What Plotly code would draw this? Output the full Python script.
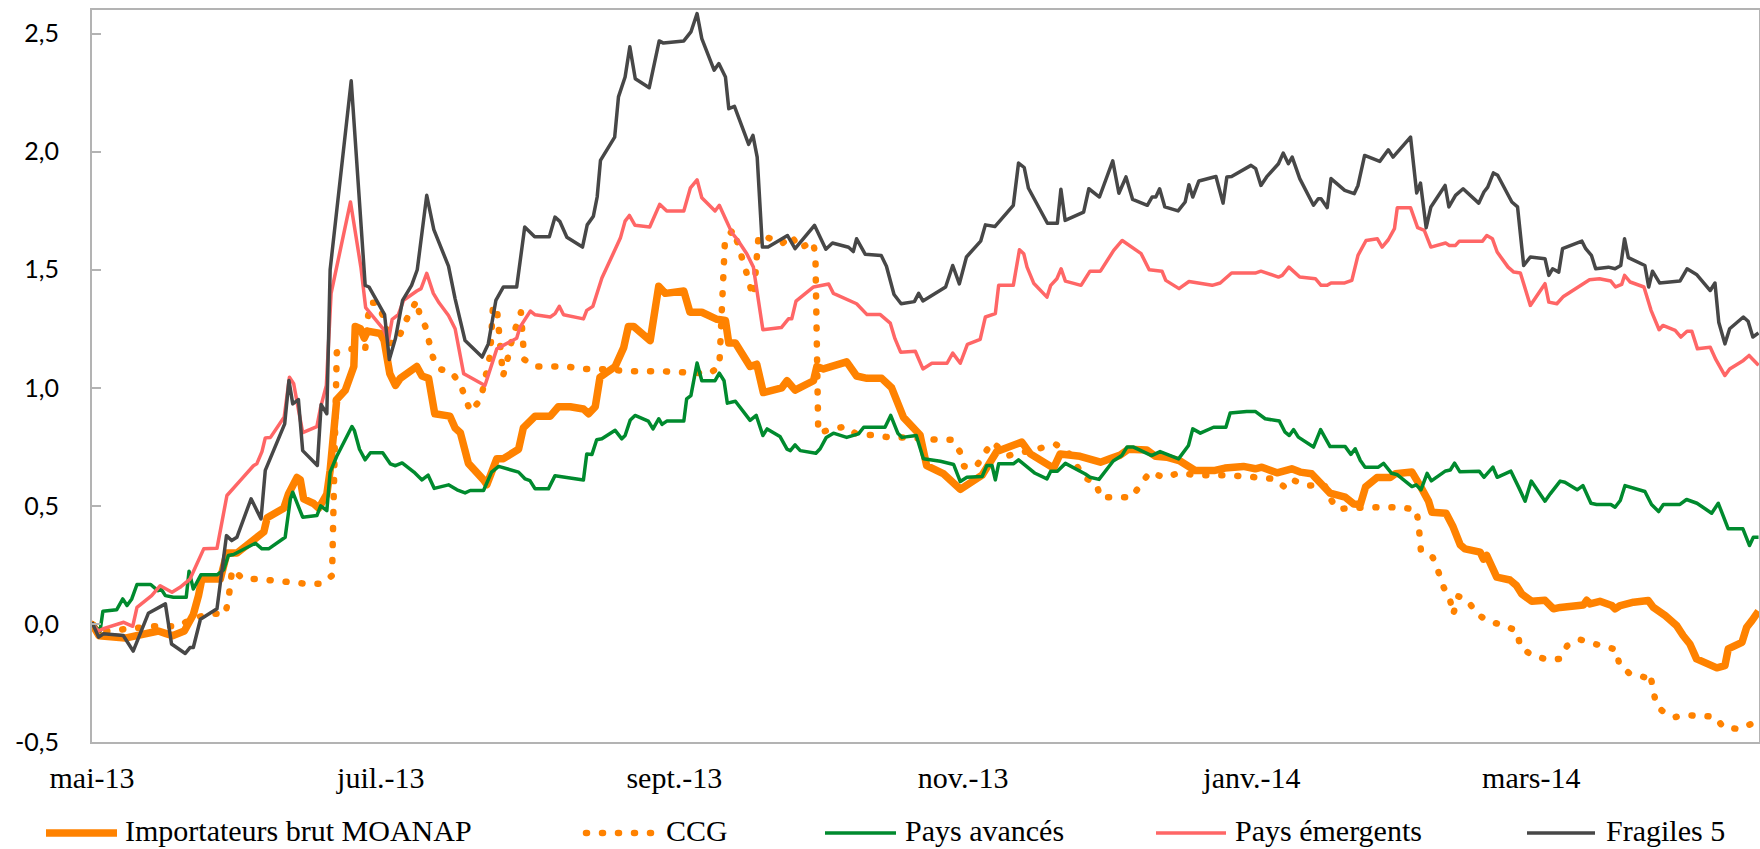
import pandas as pd
import plotly.graph_objects as go

START = pd.Timestamp("2013-05-01")

# ---- Data: day offsets since 1 May 2013 and values ----
moanap_days = [0, 1.5, 7, 9, 12, 14, 15.5, 17, 19.5, 21.4, 22.5, 23.2, 27.1, 28.5, 30.6, 34.1, 36.3, 37, 40.5,
               41.5, 43.3, 44, 44.7, 46.8, 47.9, 49.6, 50.3, 51.7, 53.5, 55.3, 55.6, 56.7, 57.5, 58.2, 60.9, 61.7,
               62.9, 64.1, 65.1, 68.6, 69.7, 71.1, 72.4, 75.6, 76.7, 77.8, 79.5, 82.7, 83.4, 85.5, 86.9, 90.1, 91.1,
               93.6, 96.8, 98.5, 101, 103.8, 104.9, 106.3, 107.3, 108.7, 110.5, 112.3, 113.3, 114.4, 117.9, 119.7,
               121.1, 125, 126.3, 128.8, 132, 133.8, 134.5, 135.9, 139, 140.4, 141.8, 145.7, 146.8, 148.5, 152.4,
               153.1, 154.5, 159.4, 161.5, 163.7, 166.8, 168.9, 171.4, 174.9, 176.3, 179.9, 181.6, 183.4, 188,
               191.1, 196.4, 198.2, 203.1, 204.5, 208.7, 213, 215.1, 217.2, 218.9, 222.8, 224.6, 227, 229.8, 231.6,
               233, 237.2, 239.3, 243.2, 245.7, 247.1, 250.3, 253.4, 255.2, 257.6, 259.8, 261.5, 264.7, 266.5,
               267.9, 269, 271.4, 274.2, 275.3, 278.8, 280.5, 282.3, 283, 286, 287.4, 289, 290, 293.2, 293.9, 294.6,
               296.7, 299.5, 300.9, 302, 304.1, 306.9, 308.7, 310.1, 315, 315.7, 316.4, 318.5, 321, 321.7, 322.8,
               325.6, 328.7, 329.8, 332.3, 334.7, 336.1, 337.5, 338.9, 341.8, 343.2, 344.9, 345.6, 348.5, 349.5,
               350.6, 352]
moanap_vals = [0.00, -0.05, -0.06, -0.05, -0.04, -0.03, -0.04, -0.05, -0.03, 0.04, 0.12, 0.19, 0.19, 0.30, 0.30,
               0.35, 0.39, 0.45, 0.49, 0.55, 0.62, 0.61, 0.53, 0.51, 0.49, 0.55, 0.65, 0.95, 0.99, 1.09, 1.26, 1.25,
               1.21, 1.24, 1.23, 1.20, 1.06, 1.01, 1.04, 1.09, 1.05, 1.04, 0.89, 0.88, 0.83, 0.81, 0.68, 0.61, 0.59,
               0.70, 0.70, 0.74, 0.83, 0.88, 0.88, 0.92, 0.92, 0.91, 0.89, 0.92, 1.045, 1.065, 1.09, 1.17, 1.26,
               1.26, 1.20, 1.43, 1.40, 1.41, 1.32, 1.32, 1.29, 1.285, 1.19, 1.19, 1.09, 1.10, 0.98, 1.00, 1.03,
               0.99, 1.03, 1.09, 1.08, 1.11, 1.05, 1.04, 1.04, 1.00, 0.875, 0.80, 0.67, 0.635, 0.60, 0.57, 0.63,
               0.73, 0.77, 0.72, 0.66, 0.72, 0.71, 0.685, 0.70, 0.715, 0.74, 0.737, 0.71, 0.706, 0.69, 0.67, 0.65,
               0.65, 0.66, 0.667, 0.657, 0.664, 0.64, 0.657, 0.643, 0.636, 0.593, 0.554, 0.537, 0.508, 0.506, 0.58,
               0.62, 0.62, 0.636, 0.643, 0.586, 0.52, 0.473, 0.469, 0.415, 0.335, 0.318, 0.304, 0.275, 0.29, 0.198,
               0.186, 0.162, 0.127, 0.096, 0.10, 0.064, 0.07, 0.08, 0.10, 0.085, 0.096, 0.078, 0.064, 0.078, 0.092,
               0.099, 0.07, 0.035, -0.007, -0.05, -0.085, -0.148, -0.17, -0.186, -0.177, -0.106, -0.078, -0.014,
               0.014, 0.054]

ccg_days = [0, 3, 8, 13, 18, 21, 25, 28.1, 28.8, 29.2, 29.6, 32, 35.2, 45.2, 48.6, 50.7, 51.2, 51.7, 54.2, 57.7,
            58.2, 58.8, 60.2, 61.8, 62.6, 64.3, 65.6, 66.9, 68.6, 69.2, 70.4, 71.3, 72, 73.3, 76, 77.9, 79, 79.9,
            82.1, 83.7, 84.1, 84.7, 85.6, 86.8, 87.4, 88.9, 90.6, 91.3, 93.5, 100.3, 103.6, 107, 113.7, 120.4,
            127.1, 130.4, 132.5, 133.7, 135.5, 136.6, 137.6, 138.5, 139.4, 139.8, 140.3, 140.8, 143, 145.7, 147.7,
            149.4, 152.3, 152.8, 153.4, 156.2, 159, 161.8, 165.1, 168.3, 172, 178.4, 181.8, 183.3, 184.2, 186.7,
            188.5, 190.1, 193.6, 200.6, 203.6, 206.1, 207.9, 209.6, 212.1, 213, 216.3, 219.7, 221.5, 223.5, 226.4,
            229.7, 233.1, 239.8, 246.5, 249.7, 252.2, 253.9, 256.9, 260.3, 261.4, 263.1, 269.5, 276.3, 279.7,
            280.2, 280.7, 283.2, 284.4, 285.5, 286.8, 287.5, 288.6, 290.6, 292.5, 295.1, 298.5, 301.1, 301.6, 304,
            307.3, 310, 311.6, 314.3, 317.5, 320.6, 322, 322.6, 324.9, 328, 329.1, 329.7, 330.4, 331.6, 334.2,
            336.6, 339.8, 342.8, 344.6, 347.9, 350.4, 352]
ccg_vals = [0.00, -0.03, -0.02, -0.01, -0.01, 0.02, 0.045, 0.04, 0.10, 0.18, 0.23, 0.19, 0.19, 0.17, 0.17, 0.205,
            0.61, 1.15, 1.165, 1.16, 1.29, 1.36, 1.36, 1.29, 1.19, 1.19, 1.25, 1.31, 1.37, 1.31, 1.26, 1.20, 1.13,
            1.08, 1.066, 1.01, 0.95, 0.90, 0.95, 1.08, 1.14, 1.35, 1.32, 1.05, 1.09, 1.22, 1.32, 1.12, 1.09, 1.09,
            1.08, 1.08, 1.07, 1.07, 1.06, 1.06, 1.09, 1.63, 1.67, 1.60, 1.54, 1.47, 1.40, 1.39, 1.525, 1.645,
            1.634, 1.61, 1.645, 1.59, 1.62, 1.56, 0.81, 0.826, 0.836, 0.80, 0.80, 0.79, 0.79, 0.78, 0.78, 0.73,
            0.667, 0.665, 0.716, 0.77, 0.713, 0.75, 0.76, 0.73, 0.67, 0.62, 0.596, 0.536, 0.537, 0.537, 0.593,
            0.643, 0.62, 0.64, 0.63, 0.63, 0.62, 0.614, 0.575, 0.607, 0.586, 0.59, 0.534, 0.487, 0.494, 0.494,
            0.484, 0.424, 0.308, 0.282, 0.22, 0.155, 0.106, 0.04, 0.117, 0.099, 0.042, 0.01, -0.007, -0.032,
            -0.096, -0.131, -0.151, -0.148, -0.092, -0.066, -0.085, -0.099, -0.109, -0.174, -0.212, -0.226,
            -0.209, -0.275, -0.342, -0.367, -0.395, -0.386, -0.388, -0.393, -0.438, -0.445, -0.424, -0.41]

avances_days = [0, 1.7, 2.3, 5.2, 6.5, 7.4, 8.4, 9.5, 12.4, 13.9, 14.6, 15.5, 17.2, 19.9, 20.5, 21.4, 23, 26.4,
                27.8, 28.8, 29.9, 34.5, 35.9, 37.3, 40.8, 41.9, 42.4, 44.5, 47.5, 48.3, 49.6, 50.3, 51.7, 54.9,
                55.4, 56.5, 57.7, 58.8, 61.4, 63, 64.1, 65.5, 68, 69.7, 71, 72.3, 75.3, 77.1, 78.8, 79.9, 82.7,
                84.4, 85.9, 90.1, 91.5, 92.5, 93.6, 96.4, 97.8, 101, 103.8, 104.5, 105.6, 106.6, 107.7, 110.5,
                111.9, 112.6, 113.7, 114.7, 117.5, 118.5, 119.7, 120.4, 121.4, 125, 125.6, 126.5, 127.8, 128.8,
                131.6, 132.5, 133.5, 134.2, 135.9, 139, 140.3, 141.7, 142.6, 145.3, 146.8, 147.5, 148.5, 149.6,
                152.9, 153.8, 155.1, 156.6, 159.4, 161.9, 163, 167.5, 168.7, 170.2, 171.1, 174.1, 175.6, 179.2,
                182, 183.4, 184.8, 188, 189, 190.1, 190.8, 191.5, 194.6, 195.7, 197.1, 199.2, 201.7, 202.5, 203.9,
                205.6, 209.8, 210.8, 212.7, 215.7, 217.5, 218.6, 220, 223.8, 225.6, 229.5, 231.6, 232.5, 234.1,
                236.9, 239.5, 240.4, 243.9, 245.7, 247.8, 250.8, 252, 252.9, 253.8, 254.8, 258, 259.5, 261.5,
                264.7, 265.9, 266.8, 267.9, 268.9, 271.7, 272.8, 274.5, 275.6, 278.8, 279.7, 280.7, 282, 282.9,
                285.9, 286.9, 287.8, 288.9, 293, 294, 295.9, 296.8, 299.7, 301.5, 302.7, 304, 306.9, 308, 310.1,
                311.1, 313.7, 314.9, 316.6, 317.8, 320.8, 321.7, 322.8, 323.8, 328, 329.4, 330.9, 331.9, 335.4,
                336.8, 339, 342.1, 343.5, 345.6, 348.7, 350.1, 350.9, 352]
avances_vals = [0.00, -0.03, 0.054, 0.06, 0.106, 0.078, 0.106, 0.167, 0.167, 0.141, 0.148, 0.12, 0.113, 0.113,
                0.223, 0.148, 0.208, 0.208, 0.229, 0.29, 0.294, 0.342, 0.318, 0.318, 0.367, 0.53, 0.558, 0.452,
                0.459, 0.50, 0.48, 0.643, 0.71, 0.836, 0.82, 0.74, 0.695, 0.725, 0.725, 0.678, 0.67, 0.682, 0.643,
                0.61, 0.63, 0.574, 0.589, 0.568, 0.555, 0.565, 0.565, 0.643, 0.667, 0.643, 0.614, 0.607, 0.572,
                0.572, 0.628, 0.62, 0.61, 0.72, 0.718, 0.78, 0.784, 0.82, 0.784, 0.798, 0.864, 0.883, 0.859, 0.826,
                0.869, 0.845, 0.859, 0.859, 0.953, 0.967, 1.105, 1.03, 1.03, 1.062, 1.03, 0.935, 0.943, 0.862,
                0.883, 0.798, 0.826, 0.794, 0.74, 0.734, 0.758, 0.734, 0.723, 0.742, 0.79, 0.808, 0.79, 0.805,
                0.833, 0.833, 0.883, 0.808, 0.79, 0.798, 0.70, 0.689, 0.675, 0.603, 0.621, 0.624, 0.671, 0.671,
                0.61, 0.678, 0.678, 0.695, 0.671, 0.638, 0.614, 0.647, 0.647, 0.68, 0.635, 0.621, 0.612, 0.69,
                0.713, 0.749, 0.749, 0.713, 0.73, 0.699, 0.756, 0.826, 0.808, 0.833, 0.833, 0.893, 0.90, 0.90,
                0.869, 0.859, 0.812, 0.798, 0.823, 0.791, 0.749, 0.823, 0.751, 0.751, 0.718, 0.742, 0.692, 0.664,
                0.664, 0.68, 0.638, 0.633, 0.582, 0.589, 0.568, 0.638, 0.606, 0.648, 0.652, 0.681, 0.645, 0.647,
                0.621, 0.664, 0.621, 0.647, 0.572, 0.52, 0.605, 0.52, 0.551, 0.605, 0.60, 0.568, 0.586, 0.511,
                0.506, 0.506, 0.494, 0.523, 0.586, 0.561, 0.506, 0.476, 0.506, 0.506, 0.527, 0.511, 0.469, 0.511,
                0.403, 0.403, 0.332, 0.367, 0.367]

emergents_days = [0, 1.4, 2.4, 6.7, 8.6, 9.5, 12.6, 14.4, 16.9, 18.6, 20.7, 22.5, 23.6, 26.4, 27.1, 28.5, 31.3,
                  34.1, 34.8, 35.9, 36.6, 37.7, 40.6, 41.7, 42.6, 44.5, 47.5, 48.3, 49.5, 50.5, 54.6, 56.8, 57.8,
                  59, 61.5, 62.6, 63.4, 64.7, 65.8, 68.6, 69.5, 70.7, 72.1, 73.3, 75.3, 76.7, 78.5, 79.2, 83, 85.5,
                  87.3, 89.7, 90.4, 92.6, 93.6, 96.8, 97.8, 98.7, 99.6, 103.8, 104.5, 105.8, 107.7, 111.6, 112.6,
                  113.5, 114.7, 117.8, 119.9, 121.4, 125, 126.4, 127.8, 128.8, 131.6, 132.5, 133.8, 135.2, 136.2,
                  138.3, 139.7, 140.4, 141.7, 145.6, 147.1, 147.8, 148.7, 152.4, 155.6, 156.6, 160.5, 161.5, 163.7,
                  166.5, 168.6, 169.6, 170.8, 173.9, 175.5, 177.4, 180.6, 181.8, 183.4, 184.9, 187.6, 188.7, 190.8,
                  191.5, 194.6, 195.9, 196.8, 197.5, 198.9, 201.7, 202.5, 203.8, 204.7, 205.6, 208.9, 210.8, 213,
                  215.8, 217.6, 220, 221.6, 223.3, 226, 226.8, 229.6, 231.7, 236.6, 238.3, 240.7, 245.7, 246.9,
                  250.6, 251.4, 252.8, 255.1, 258.4, 259.6, 260.9, 261.7, 264.6, 266.1, 267.4, 269.1, 271.5, 272.5,
                  273.8, 275.1, 275.7, 278.5, 280, 281.4, 282.8, 285.9, 286.7, 288, 288.8, 293.7, 294.6, 295.8,
                  296.8, 299.1, 300.3, 301.7, 303.8, 306.9, 307.7, 309.4, 310.8, 316.3, 318.4, 320.8, 321.8, 323.1,
                  323.7, 324.9, 327.8, 329.3, 331, 331.8, 334.4, 335.6, 336.9, 337.9, 339.1, 341.8, 343, 344.9,
                  345.9, 348.8, 350, 352]
emergents_vals = [0.00, -0.03, -0.02, 0.007, -0.01, 0.07, 0.12, 0.162, 0.134, 0.155, 0.19, 0.275, 0.318, 0.32,
                  0.40, 0.544, 0.607, 0.67, 0.678, 0.73, 0.788, 0.79, 0.876, 1.045, 1.017, 0.81, 0.836, 0.918,
                  1.01, 1.40, 1.787, 1.51, 1.34, 1.31, 1.25, 1.20, 1.29, 1.31, 1.37, 1.41, 1.42, 1.485, 1.40, 1.36,
                  1.306, 1.25, 1.06, 1.052, 1.01, 1.165, 1.186, 1.21, 1.257, 1.325, 1.309, 1.30, 1.314, 1.345,
                  1.309, 1.292, 1.328, 1.345, 1.465, 1.634, 1.706, 1.73, 1.688, 1.681, 1.777, 1.749, 1.749, 1.847,
                  1.881, 1.805, 1.749, 1.773, 1.716, 1.655, 1.631, 1.568, 1.511, 1.412, 1.246, 1.255, 1.292, 1.292,
                  1.367, 1.427, 1.44, 1.40, 1.363, 1.356, 1.31, 1.31, 1.274, 1.208, 1.151, 1.155, 1.08, 1.104,
                  1.104, 1.147, 1.104, 1.184, 1.205, 1.30, 1.314, 1.434, 1.434, 1.585, 1.568, 1.511, 1.443, 1.384,
                  1.434, 1.462, 1.504, 1.452, 1.434, 1.494, 1.494, 1.582, 1.624, 1.589, 1.568, 1.50, 1.494, 1.455,
                  1.42, 1.45, 1.434, 1.444, 1.486, 1.486, 1.494, 1.469, 1.476, 1.511, 1.469, 1.462, 1.434, 1.434,
                  1.444, 1.444, 1.455, 1.561, 1.624, 1.631, 1.596, 1.627, 1.674, 1.763, 1.763, 1.678, 1.667, 1.596,
                  1.613, 1.603, 1.603, 1.621, 1.621, 1.645, 1.631, 1.575, 1.511, 1.49, 1.486, 1.349, 1.441, 1.363,
                  1.356, 1.387, 1.458, 1.462, 1.452, 1.427, 1.438, 1.476, 1.448, 1.427, 1.328, 1.246, 1.264, 1.243,
                  1.215, 1.24, 1.24, 1.165, 1.172, 1.119, 1.052, 1.08, 1.116, 1.137, 1.095]

fragiles_days = [0, 1.4, 2.4, 6.6, 8.7, 11.9, 15.5, 16.8, 19.7, 20.7, 21.4, 22.9, 26.4, 28.4, 29.5, 30.6, 33.6,
                 35.7, 36.6, 40.7, 41.6, 42.4, 43.6, 44.5, 47.6, 48.4, 49.6, 50.3, 54.75, 57.7, 58.5, 61.8, 62.8,
                 64.1, 65.6, 67.5, 68.7, 70.7, 72.2, 75.3, 76.7, 78.8, 82.4, 83.7, 85.3, 86.9, 89.7, 91.4, 93.5,
                 96.6, 97.8, 98.8, 100.3, 103.6, 104.6, 105.9, 106.7, 107.4, 110.4, 111.2, 112.6, 113.6, 114.75,
                 117.7, 119.8, 120.7, 125, 126.5, 127.8, 128.8, 131.4, 132.4, 133.8, 134.5, 135.7, 138.7, 139.6,
                 140.5, 141.6, 142.8, 146.9, 148.5, 152.6, 155, 156.4, 159.8, 160.8, 161.5, 163.3, 166.7, 167.8,
                 169.4, 170.9, 173.7, 174.6, 175.5, 180.3, 181.8, 183.2, 184.7, 187.7, 188.7, 190.7, 194.6, 195.7,
                 196.9, 197.8, 201.8, 203.9, 204.65, 205.55, 209.45, 210.55, 212.8, 215.6, 216.9, 218.4, 219.8,
                 222.9, 223.9, 224.7, 225.5, 226.6, 229.4, 230.9, 231.7, 232.5, 233.8, 237.4, 238.9, 239.7, 240.7,
                 244.8, 245.8, 246.9, 248.1, 250.6, 251.6, 252.7, 253.5, 255.1, 258, 259, 259.6, 260.9, 261.7,
                 264.6, 266.6, 267.4, 268.8, 272, 273.8, 274.8, 276.1, 278.5, 279.8, 280.6, 281.8, 282.8, 285.8,
                 286.6, 288, 289.6, 292.9, 294, 294.8, 296, 296.9, 299.9, 301.1, 302.4, 303.8, 306.9, 307.7, 308.5,
                 309.8, 310.6, 314.7, 315.5, 316.7, 317.6, 320.3, 321.7, 322.9, 323.7, 324.5, 328, 328.8, 329.6,
                 331.1, 335.4, 336.9, 338.9, 341.8, 342.8, 343.6, 344.9, 345.9, 348.8, 349.8, 350.8, 352]
fragiles_vals = [0.007, -0.056, -0.042, -0.049, -0.115, 0.045, 0.085, -0.085, -0.125, -0.10, -0.10, 0.02, 0.064,
                 0.374, 0.353, 0.367, 0.53, 0.445, 0.65, 0.847, 1.031, 0.932, 0.95, 0.734, 0.671, 0.929, 0.89,
                 1.50, 2.30, 1.434, 1.427, 1.31, 1.12, 1.21, 1.37, 1.434, 1.50, 1.815, 1.67, 1.515, 1.377, 1.20,
                 1.13, 1.186, 1.37, 1.427, 1.427, 1.681, 1.64, 1.64, 1.723, 1.705, 1.638, 1.596, 1.69, 1.727, 1.808,
                 1.963, 2.062, 2.232, 2.316, 2.444, 2.309, 2.271, 2.469, 2.46, 2.469, 2.507, 2.585, 2.479, 2.345,
                 2.373, 2.316, 2.182, 2.192, 2.031, 2.069, 1.977, 1.596, 1.596, 1.645, 1.589, 1.688, 1.587, 1.613,
                 1.595, 1.577, 1.631, 1.566, 1.56, 1.515, 1.395, 1.356, 1.365, 1.40, 1.368, 1.427, 1.518, 1.44,
                 1.554, 1.621, 1.69, 1.683, 1.773, 1.952, 1.933, 1.845, 1.697, 1.697, 1.841, 1.709, 1.744, 1.843,
                 1.808, 1.961, 1.824, 1.893, 1.798, 1.773, 1.808, 1.808, 1.843, 1.766, 1.749, 1.787, 1.86, 1.808,
                 1.876, 1.895, 1.782, 1.893, 1.895, 1.942, 1.928, 1.857, 1.893, 1.949, 1.994, 1.949, 1.977, 1.886,
                 1.773, 1.801, 1.801, 1.763, 1.886, 1.836, 1.822, 1.857, 1.984, 1.959, 2.008, 1.977, 2.008, 2.062,
                 1.825, 1.867, 1.678, 1.766, 1.857, 1.766, 1.815, 1.843, 1.782, 1.829, 1.85, 1.91, 1.90, 1.787,
                 1.766, 1.518, 1.554, 1.547, 1.476, 1.504, 1.49, 1.589, 1.621, 1.589, 1.561, 1.504, 1.511, 1.504,
                 1.518, 1.631, 1.551, 1.518, 1.427, 1.494, 1.444, 1.452, 1.504, 1.48, 1.412, 1.444, 1.278, 1.186,
                 1.25, 1.30, 1.282, 1.215, 1.232]

series_names = ["Importateurs brut MOANAP", "CCG", "Pays avancés", "Pays émergents", "Fragiles 5"]

tick_dates = ["2013-05-01", "2013-07-01", "2013-09-01", "2013-11-01", "2014-01-01", "2014-03-01"]
tick_labels = ["mai-13", "juil.-13", "sept.-13", "nov.-13", "janv.-14", "mars-14"]
y_tickvals = [-0.5, 0.0, 0.5, 1.0, 1.5, 2.0, 2.5]
y_ticktext = ["-0,5", "0,0", "0,5", "1,0", "1,5", "2,0", "2,5"]

# ---- Styles ----
ORANGE = "#FF8200"
GREEN = "#008A2E"
RED = "#FF6666"
GREY = "#474747"
AXIS = "#B3B3B3"
CCG_DASH = "1px,15px"

styles = [
    dict(color=ORANGE, width=7.5),
    dict(color=ORANGE, width=6.5, dash=CCG_DASH),
    dict(color=GREEN, width=3.5),
    dict(color=RED, width=3.5),
    dict(color=GREY, width=3.5),
]


def to_dates(days):
    return [(START + pd.Timedelta(days=d)).isoformat() for d in days]


series = [
    (moanap_days, moanap_vals),
    (ccg_days, ccg_vals),
    (avances_days, avances_vals),
    (emergents_days, emergents_vals),
    (fragiles_days, fragiles_vals),
]

fig = go.Figure()
for name, (days, vals), st in zip(series_names, series, styles):
    fig.add_trace(go.Scatter(x=to_dates(days), y=vals, mode="lines", name=name,
                             line=st, showlegend=False))

# ---- Layout (pixel geometry of the reference) ----
W, H = 1760, 849
L, R, T, B = 92, 1, 10, 107
plot_w = W - L - R
plot_h = H - T - B
y_min, y_max = -0.5, 2.6
x_end = (START + pd.Timedelta(days=352.1)).isoformat()


def px_x(px):
    return (px - L) / plot_w


def px_y(py):
    return (H - B - py) / plot_h


fig.update_layout(
    width=W, height=H,
    margin=dict(l=L, r=R, t=T, b=B, pad=0, autoexpand=False),
    plot_bgcolor="white", paper_bgcolor="white",
    showlegend=False,
    xaxis=dict(type="date", range=[START.isoformat(), x_end], tickvals=tick_dates, ticktext=tick_labels,
               ticks="", showgrid=False, zeroline=False, showline=True, linecolor=AXIS, linewidth=2,
               mirror=True, automargin=False,
               tickfont=dict(family="Liberation Serif", size=30, color="black"),
               ticklabelstandoff=8),
    xaxis2=dict(type="date", overlaying="x", matches="x", anchor="free", automargin=False,
                position=(0 - y_min) / (y_max - y_min), tickvals=tick_dates, ticks="inside", ticklen=9,
                tickwidth=2, tickcolor=AXIS, showticklabels=False, showline=True, linecolor=AXIS,
                linewidth=2, showgrid=False, zeroline=False),
    yaxis=dict(range=[y_min, y_max], tickvals=y_tickvals, ticktext=y_ticktext, ticks="inside", ticklen=9,
               tickwidth=2, tickcolor=AXIS, showline=True, linecolor=AXIS, linewidth=2, mirror=True,
               showgrid=False, zeroline=False, automargin=False,
               tickfont=dict(family="Lato", size=25, color="black"), ticklabelstandoff=26),
)

# ---- Legend drawn as shapes + text, laid out like the reference ----
legend_line_y = px_y(833)
legend_text_y = px_y(848)
legend_items = [  # (line start px, line end px, text start px)
    (46, 117, 124),
    (586, 653, 665),
    (825, 896, 904),
    (1156, 1226, 1234),
    (1527, 1595, 1605),
]
for name, st, (x0, x1, xt) in zip(series_names, styles, legend_items):
    fig.add_shape(type="line", xref="paper", yref="paper", x0=px_x(x0), x1=px_x(x1),
                  y0=legend_line_y, y1=legend_line_y, line=st)
    fig.add_annotation(xref="paper", yref="paper", x=px_x(xt), y=legend_text_y, text=name, showarrow=False,
                       xanchor="left", yanchor="bottom", borderpad=0,
                       font=dict(family="Liberation Serif", size=30, color="black"))

post = """
document.documentElement.style.margin = '0';
document.body.style.margin = '0';
document.body.style.padding = '0';
document.body.style.overflow = 'hidden';
var gd = document.getElementById('{plot_id}');
function styleLines() {
  gd.querySelectorAll('path').forEach(function (p) {
    if (p.classList.contains('js-line')) { p.style.strokeLinejoin = 'round'; }
    var da = p.style.strokeDasharray;
    if (da && da !== 'none') { p.style.strokeLinecap = 'round'; }
  });
}
styleLines();
gd.on('plotly_afterplot', styleLines);
"""

fig.write_html("out.html", post_script=post,
               config={"displayModeBar": False, "staticPlot": False})
